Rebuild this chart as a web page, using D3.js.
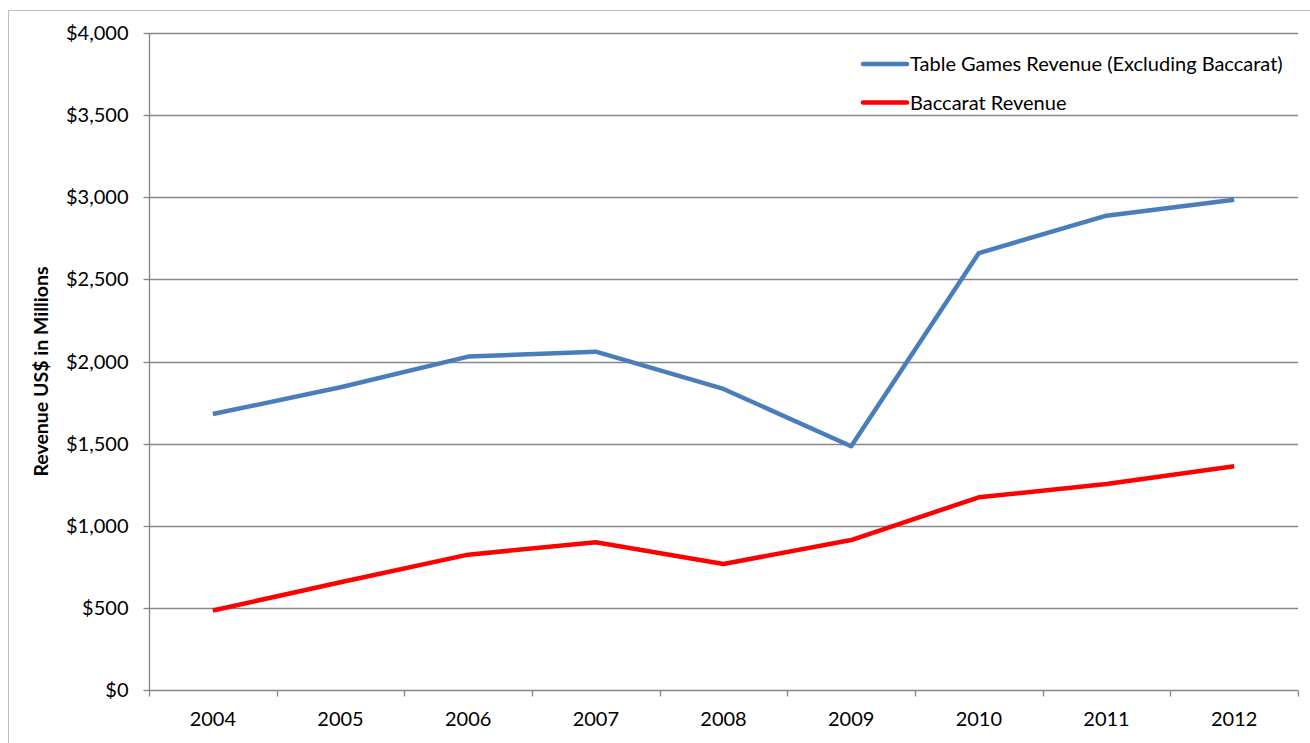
<!DOCTYPE html>
<html>
<head>
<meta charset="utf-8">
<script src="https://cdn.jsdelivr.net/npm/d3@7"></script>
<style>
  body { margin: 0; background: #fff; }
  text { font-family: Lato, "Open Sans", sans-serif; fill: #000; }
</style>
</head>
<body>
<div id="chart"></div>
<script>
// data (US$ millions)
var years        = ["2004", "2005", "2006", "2007", "2008", "2009", "2010", "2011", "2012"];
var tableGames   = [1680, 1843, 2030, 2060, 1833, 1484, 2660, 2888, 2985];
var baccarat     = [484, 656, 824, 899, 767, 913, 1173, 1254, 1362];
var yTicks       = [0, 500, 1000, 1500, 2000, 2500, 3000, 3500, 4000];
var seriesNames  = ["Table Games Revenue (Excluding Baccarat)", "Baccarat Revenue"];

var width     = 1310,
    height    = 743,
    plotLeft  = 149,
    plotRight = 1298,
    plotTop   = 33,
    plotBot   = 690,
    gridColor = "#868686";

var svg = d3.select("#chart").append("svg")
    .attr("width", width)
    .attr("height", height);

// outer chart border
svg.append("rect")
    .attr("x", 8.5).attr("y", 10.5)
    .attr("width", width + 10).attr("height", height + 10)
    .style("fill", "none")
    .style("stroke", "#bfbfbf")
    .style("stroke-width", "1px");

var x = d3.scaleBand().domain(years).range([plotLeft, plotRight]);
var y = d3.scaleLinear().domain([0, 4000]).range([plotBot, plotTop]);

// horizontal gridlines
svg.append("g").selectAll("line")
    .data(yTicks.filter(function(d){ return d > 0; }))
    .enter().append("line")
    .attr("x1", plotLeft).attr("x2", plotRight)
    .attr("y1", function(d){ return Math.round(y(d)) + 0.5; })
    .attr("y2", function(d){ return Math.round(y(d)) + 0.5; })
    .style("stroke", gridColor)
    .style("stroke-width", "1.3px");

// y axis
var yAxis = svg.append("g")
    .attr("transform", "translate(" + (plotLeft + 0.5) + ",0)")
    .call(d3.axisLeft(y).tickValues(yTicks).tickSize(6).tickPadding(15)
        .tickFormat(function(d){ return "$" + d3.format(",")(d); }));
yAxis.selectAll("line, path").style("stroke", gridColor).style("stroke-width", "1.3px");
yAxis.select(".domain").attr("d", "M0," + Math.round(y(4000)) + "V" + Math.round(y(0)));
yAxis.selectAll(".tick").attr("transform", function(d){ return "translate(0," + (Math.round(y(d)) + 0.5) + ")"; });
yAxis.selectAll("text").style("font-size", "20px").style("font-family", "Lato, sans-serif").style("fill", "#000");

// x axis with ticks at category boundaries
var xg = svg.append("g").attr("transform", "translate(0," + (plotBot + 0.5) + ")");
xg.append("line")
    .attr("x1", plotLeft).attr("x2", plotRight)
    .style("stroke", gridColor).style("stroke-width", "1.3px");
xg.selectAll(".tk")
    .data(years.concat([null]))
    .enter().append("line")
    .attr("x1", function(d, i){ return Math.round(plotLeft + i * x.step()) + 0.5; })
    .attr("x2", function(d, i){ return Math.round(plotLeft + i * x.step()) + 0.5; })
    .attr("y1", 0).attr("y2", 6)
    .style("stroke", gridColor).style("stroke-width", "1.3px");
xg.selectAll(".lbl")
    .data(years)
    .enter().append("text")
    .attr("x", function(d){ return x(d) + x.bandwidth() / 2; })
    .attr("y", 35)
    .attr("text-anchor", "middle")
    .style("font-size", "20px")
    .text(function(d){ return d; });

// axis title
svg.append("text")
    .attr("transform", "translate(48," + ((plotTop + plotBot) / 2 + 10) + ") rotate(-90)")
    .attr("text-anchor", "middle")
    .style("font-size", "19.5px")
    .style("font-weight", "bold")
    .text("Revenue US$ in Millions");

// lines
var line = d3.line()
    .x(function(d, i){ return x(years[i]) + x.bandwidth() / 2; })
    .y(function(d){ return y(d); });

var series = [tableGames, baccarat];
var colors = ["#4a7ebb", "#ff0000"];

svg.selectAll(".series")
    .data(series)
    .enter().append("path")
    .attr("d", line)
    .style("fill", "none")
    .style("stroke", function(d, i){ return colors[i]; })
    .style("stroke-width", "4.5px")
    .style("stroke-linejoin", "round");

// legend
var legend = svg.append("g");
seriesNames.forEach(function(name, i) {
    var ly = 64 + i * 38.5;
    legend.append("line")
        .attr("x1", 863).attr("x2", 907)
        .attr("y1", ly).attr("y2", ly)
        .style("stroke", colors[i])
        .style("stroke-width", "4.5px")
        .style("stroke-linecap", "round");
    legend.append("text")
        .attr("x", 910).attr("y", ly + 7)
        .style("font-size", "20px")
        .text(name);
});
</script>
</body>
</html>
